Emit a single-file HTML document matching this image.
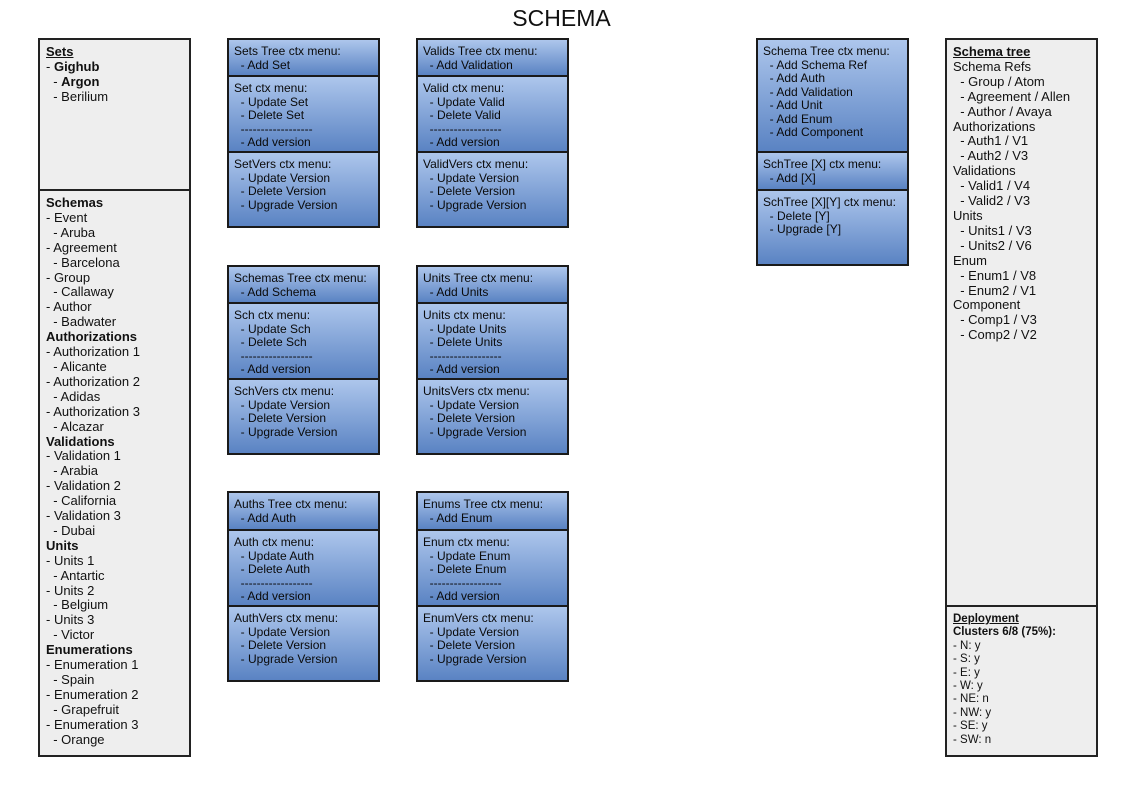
<!DOCTYPE html>
<html><head><meta charset="utf-8"><style>
body{margin:0;width:1123px;height:794px;background:#fff;position:relative;font-family:"Liberation Sans",sans-serif;color:#111;overflow:hidden}
.p{position:absolute;box-sizing:border-box;border:2px solid #222;background:#eeeeee;padding:5px 0 0 6px;font-size:13px;line-height:14.9px;white-space:pre}
.b{position:absolute;box-sizing:border-box;border:2px solid #1a1a1a;background:linear-gradient(#adc6ec,#5a83c3);padding:5px 0 0 5px;font-size:12px;line-height:13.5px;white-space:pre;color:#0a0a0a}
u{text-decoration:underline}
</style></head><body>
<div style="position:absolute;left:0;width:1123px;top:5px;text-align:center;font-size:23px">SCHEMA</div>

<div class="p" style="left:38px;top:38px;width:153px;height:153px"><b><u>Sets</u></b>
- <b>Gighub</b>
  - <b>Argon</b>
  - Berilium</div>
<div class="p" style="left:38px;top:189px;width:153px;height:568px"><b>Schemas</b>
- Event
  - Aruba
- Agreement
  - Barcelona
- Group
  - Callaway
- Author
  - Badwater
<b>Authorizations</b>
- Authorization 1
  - Alicante
- Authorization 2
  - Adidas
- Authorization 3
  - Alcazar
<b>Validations</b>
- Validation 1
  - Arabia
- Validation 2
  - California
- Validation 3
  - Dubai
<b>Units</b>
- Units 1
  - Antartic
- Units 2
  - Belgium
- Units 3
  - Victor
<b>Enumerations</b>
- Enumeration 1
  - Spain
- Enumeration 2
  - Grapefruit
- Enumeration 3
  - Orange</div>

<div class="b" style="left:227px;top:38px;width:153px;height:39px">Sets Tree ctx menu:
  - Add Set</div>
<div class="b" style="left:227px;top:75px;width:153px;height:78px">Set ctx menu:
  - Update Set
  - Delete Set
  ------------------
  - Add version</div>
<div class="b" style="left:227px;top:151px;width:153px;height:77px">SetVers ctx menu:
  - Update Version
  - Delete Version
  - Upgrade Version</div>

<div class="b" style="left:416px;top:38px;width:153px;height:39px">Valids Tree ctx menu:
  - Add Validation</div>
<div class="b" style="left:416px;top:75px;width:153px;height:78px">Valid ctx menu:
  - Update Valid
  - Delete Valid
  ------------------
  - Add version</div>
<div class="b" style="left:416px;top:151px;width:153px;height:77px">ValidVers ctx menu:
  - Update Version
  - Delete Version
  - Upgrade Version</div>

<div class="b" style="left:227px;top:265px;width:153px;height:39px">Schemas Tree ctx menu:
  - Add Schema</div>
<div class="b" style="left:227px;top:302px;width:153px;height:78px">Sch ctx menu:
  - Update Sch
  - Delete Sch
  ------------------
  - Add version</div>
<div class="b" style="left:227px;top:378px;width:153px;height:77px">SchVers ctx menu:
  - Update Version
  - Delete Version
  - Upgrade Version</div>

<div class="b" style="left:416px;top:265px;width:153px;height:39px">Units Tree ctx menu:
  - Add Units</div>
<div class="b" style="left:416px;top:302px;width:153px;height:78px">Units ctx menu:
  - Update Units
  - Delete Units
  ------------------
  - Add version</div>
<div class="b" style="left:416px;top:378px;width:153px;height:77px">UnitsVers ctx menu:
  - Update Version
  - Delete Version
  - Upgrade Version</div>

<div class="b" style="left:227px;top:491px;width:153px;height:40px">Auths Tree ctx menu:
  - Add Auth</div>
<div class="b" style="left:227px;top:529px;width:153px;height:78px">Auth ctx menu:
  - Update Auth
  - Delete Auth
  ------------------
  - Add version</div>
<div class="b" style="left:227px;top:605px;width:153px;height:77px">AuthVers ctx menu:
  - Update Version
  - Delete Version
  - Upgrade Version</div>

<div class="b" style="left:416px;top:491px;width:153px;height:40px">Enums Tree ctx menu:
  - Add Enum</div>
<div class="b" style="left:416px;top:529px;width:153px;height:78px">Enum ctx menu:
  - Update Enum
  - Delete Enum
  ------------------
  - Add version</div>
<div class="b" style="left:416px;top:605px;width:153px;height:77px">EnumVers ctx menu:
  - Update Version
  - Delete Version
  - Upgrade Version</div>

<div class="b" style="left:756px;top:38px;width:153px;height:115px">Schema Tree ctx menu:
  - Add Schema Ref
  - Add Auth
  - Add Validation
  - Add Unit
  - Add Enum
  - Add Component</div>
<div class="b" style="left:756px;top:151px;width:153px;height:40px">SchTree [X] ctx menu:
  - Add [X]</div>
<div class="b" style="left:756px;top:189px;width:153px;height:77px">SchTree [X][Y] ctx menu:
  - Delete [Y]
  - Upgrade [Y]</div>

<div class="p" style="left:945px;top:38px;width:153px;height:569px"><b><u>Schema tree</u></b>
Schema Refs
  - Group / Atom
  - Agreement / Allen
  - Author / Avaya
Authorizations
  - Auth1 / V1
  - Auth2 / V3
Validations
  - Valid1 / V4
  - Valid2 / V3
Units
  - Units1 / V3
  - Units2 / V6
Enum
  - Enum1 / V8
  - Enum2 / V1
Component
  - Comp1 / V3
  - Comp2 / V2</div>
<div class="p" style="left:945px;top:605px;width:153px;height:152px;font-size:11.5px;line-height:13.4px;padding-top:6px"><b><u>Deployment</u></b>
<b>Clusters 6/8 (75%):</b>
- N: y
- S: y
- E: y
- W: y
- NE: n
- NW: y
- SE: y
- SW: n</div>
</body></html>
